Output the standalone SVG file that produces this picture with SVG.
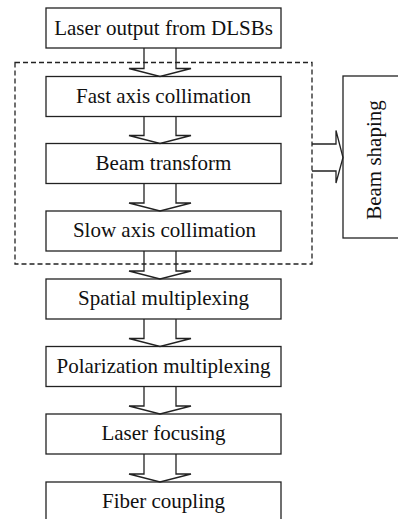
<svg xmlns="http://www.w3.org/2000/svg" width="398" height="519" viewBox="0 0 398 519">
<style>
.box{fill:#fff;stroke:#222;stroke-width:1.3}
.arr{fill:none;stroke:#222;stroke-width:1.3;stroke-linejoin:miter}
.dash{fill:none;stroke:#222;stroke-width:1.3;stroke-dasharray:5,3}
.t{font-size:21px;fill:#111;text-anchor:middle}
</style>
<rect width="398" height="519" fill="#fff"/>
<g font-family="'Liberation Serif', 'DejaVu Serif', serif">
<g id="n1"><rect class="box" x="46" y="8" width="235" height="40"/><text class="t" x="163.5" y="35">Laser output from DLSBs</text></g>
<g id="n2"><rect class="box" x="46" y="76.5" width="235" height="40"/><text class="t" x="163.5" y="102.5">Fast axis collimation</text></g>
<g id="n3"><rect class="box" x="46" y="143.5" width="235" height="40"/><text class="t" x="163.5" y="169.5">Beam transform</text></g>
<g id="n4"><rect class="box" x="46" y="211" width="235" height="40"/><text class="t" x="164.5" y="237">Slow axis collimation</text></g>
<g id="n5"><rect class="box" x="46" y="279" width="235" height="40"/><text class="t" x="163.5" y="305">Spatial multiplexing</text></g>
<g id="n6"><rect class="box" x="46" y="346.5" width="235" height="40"/><text class="t" x="163.5" y="372.5">Polarization multiplexing</text></g>
<g id="n7"><rect class="box" x="46" y="414" width="235" height="40"/><text class="t" x="163.5" y="440">Laser focusing</text></g>
<g id="n8"><rect class="box" x="46" y="482" width="235" height="42"/><text class="t" x="163.5" y="508">Fiber coupling</text></g>
<g id="n9"><rect class="box" x="343" y="76" width="60" height="162"/><text class="t" transform="translate(380.5,160) rotate(-90)" x="0" y="0">Beam shaping</text></g>
</g>
<g id="group"><rect class="dash" x="15" y="62.5" width="297" height="201.5"/></g>
<g id="connectors">
<path class="arr" d="M144,48 V68.5 H129 L160,76.5 L191,68.5 H176 V48"/>
<path class="arr" d="M144,116.5 V135.5 H129 L160,143.5 L191,135.5 H176 V116.5"/>
<path class="arr" d="M144,183.5 V203 H129 L160,211 L191,203 H176 V183.5"/>
<path class="arr" d="M144,251 V271 H129 L160,279 L191,271 H176 V251"/>
<path class="arr" d="M144,319 V338.5 H129 L160,346.5 L191,338.5 H176 V319"/>
<path class="arr" d="M144,386.5 V406 H129 L160,414 L191,406 H176 V386.5"/>
<path class="arr" d="M144,454 V474 H129 L160,482 L191,474 H176 V454"/>
<path class="arr" d="M312,144 H336 V130.5 L343,157.5 L336,183 V171 H312"/>
</g>
</svg>
